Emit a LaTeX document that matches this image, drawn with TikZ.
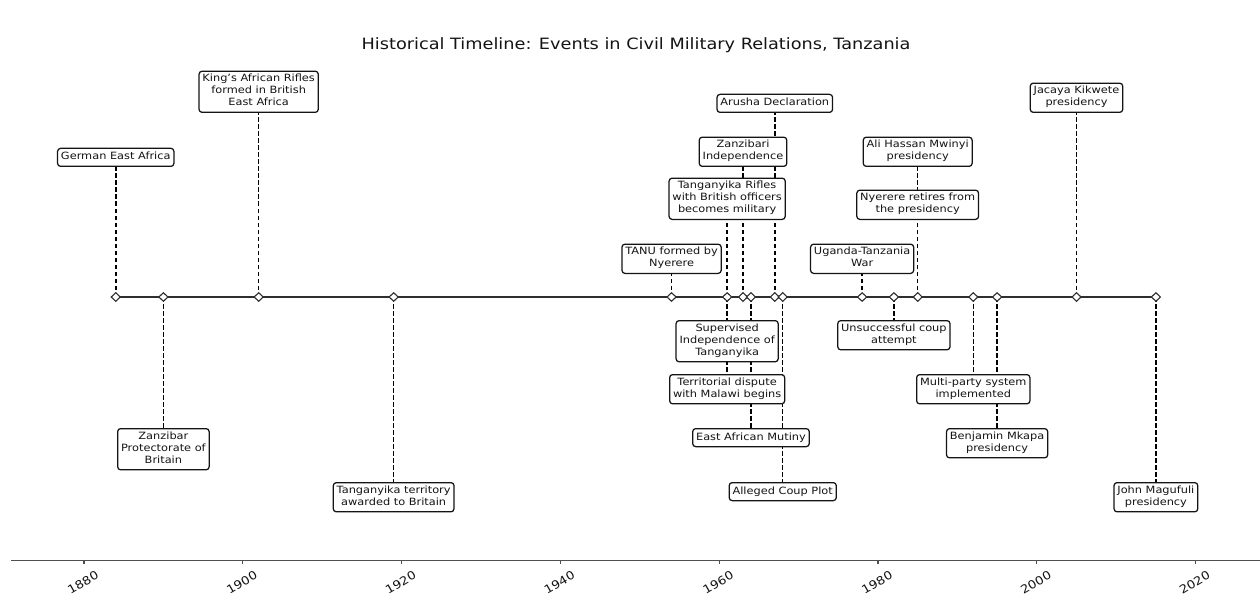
\documentclass[tikz,border=0pt]{standalone}
\usepackage{fontspec}
\setmainfont[FakeStretch=1.135]{DejaVu Sans}
\usetikzlibrary{shapes.geometric}
\pgfdeclarelayer{bg}
\pgfsetlayers{bg,main}
\definecolor{ink}{HTML}{141414}
\definecolor{linec}{HTML}{2E2E2E}
\definecolor{axc}{HTML}{505050}
\begin{document}
\begin{tikzpicture}[x=1pt,y=-1pt,
  declare function={yr(\t)=84+7.94*(\t-1880);},
  evbox/.style={draw=ink,line width=1.25pt,fill=white,rounded corners=3pt,
    align=center,inner xsep=3.4pt,inner ysep=3pt,text=ink,
    font=\fontsize{10}{12}\selectfont,
    execute at begin node=\strut,execute at end node=\strut},
  evu/.style={evbox,anchor=south},
  evd/.style={evbox,anchor=north},
  mk/.style={diamond,draw=linec,fill=white,line width=1.1pt,inner sep=0pt,
    minimum width=9.5pt,minimum height=9pt},
  stem/.style={draw=black,line width=1.5pt,dash pattern=on 4.5pt off 2.5pt},
  tl/.style={draw=linec,line width=2.2pt},
  ax/.style={draw=axc,line width=1.3pt},
  ticklab/.style={rotate=30,text=ink,font=\fontsize{11.5}{13}\selectfont,inner sep=0pt}]
\useasboundingbox (0,0) rectangle (1260,596);
\node[text=ink,font=\fontsize{15.6}{18}\selectfont] (title) at (636,45)
  {Historical Timeline: Events in Civil Military Relations, Tanzania};
% markers
\foreach \y in {1884,1890,1902,1919,1954,1961,1963,1964,1967,1968,1978,1982,1985,1992,1995,2005,2015}
  {\node[mk] (m\y) at ({yr(\y)},297) {};}
% events above
\node[evu] (gea) at ({yr(1884)},167) {German East Africa};
\node[evu] (kar) at ({yr(1902)},113) {King’s African Rifles\\formed in British\\East Africa};
\node[evu] (tanu) at ({yr(1954)},274) {TANU formed by\\Nyerere};
\node[evu] (trif) at ({yr(1961)},220) {Tanganyika Rifles\\with British officers\\becomes military};
\node[evu] (zind) at ({yr(1963)},167) {Zanzibari\\Independence};
\node[evu] (arusha) at ({yr(1967)},113) {Arusha Declaration};
\node[evu] (utw) at ({yr(1978)},274) {Uganda-Tanzania\\War};
\node[evu] (nret) at ({yr(1985)},220) {Nyerere retires from\\the presidency};
\node[evu] (mwinyi) at ({yr(1985)},167) {Ali Hassan Mwinyi\\presidency};
\node[evu] (kikwete) at ({yr(2005)},113) {Jacaya Kikwete\\presidency};
% events below
\node[evd] (zprot) at ({yr(1890)},428) {Zanzibar\\Protectorate of\\Britain};
\node[evd] (tterr) at ({yr(1919)},482) {Tanganyika territory\\awarded to Britain};
\node[evd] (sind) at ({yr(1961)},320) {Supervised\\Independence of\\Tanganyika};
\node[evd] (tdm) at ({yr(1961)},374) {Territorial dispute\\with Malawi begins};
\node[evd] (eam) at ({yr(1964)},428) {East African Mutiny};
\node[evd] (acp) at ({yr(1968)},482) {Alleged Coup Plot};
\node[evd] (ucoup) at ({yr(1982)},320) {Unsuccessful coup\\attempt};
\node[evd] (mps) at ({yr(1992)},374) {Multi-party system\\implemented};
\node[evd] (mkapa) at ({yr(1995)},428) {Benjamin Mkapa\\presidency};
\node[evd] (magufuli) at ({yr(2015)},482) {John Magufuli\\presidency};
\begin{pgfonlayer}{bg}
  \draw[tl] (m1884.center) -- (m2015.center);
  \draw[stem] (m1884.center) -- (gea.south);
  \draw[stem] (m1902.center) -- (kar.south);
  \draw[stem] (m1954.center) -- (tanu.south);
  \draw[stem] (m1961.center) -- (trif.south);
  \draw[stem] (m1963.center) -- (zind.south);
  \draw[stem] (m1967.center) -- (arusha.south);
  \draw[stem] (m1978.center) -- (utw.south);
  \draw[stem] (m1985.center) -- (nret.south);
  \draw[stem] (m1985.center) -- (mwinyi.south);
  \draw[stem] (m2005.center) -- (kikwete.south);
  \draw[stem] (m1890.center) -- (zprot.north);
  \draw[stem] (m1919.center) -- (tterr.north);
  \draw[stem] (m1961.center) -- (sind.north);
  \draw[stem] (m1961.center) -- (tdm.north);
  \draw[stem] (m1964.center) -- (eam.north);
  \draw[stem] (m1968.center) -- (acp.north);
  \draw[stem] (m1982.center) -- (ucoup.north);
  \draw[stem] (m1992.center) -- (mps.north);
  \draw[stem] (m1995.center) -- (mkapa.north);
  \draw[stem] (m2015.center) -- (magufuli.north);
\end{pgfonlayer}
% date axis
\coordinate (axL) at (11,560.7);
\coordinate (axR) at (1260,560.7);
\draw[ax] (axL) -- (axR);
\foreach \y in {1880,1900,...,2020}{
  \coordinate (t\y) at ({yr(\y)},560.7);
  \draw[ax] (t\y) -- ++(0,3.5);
  \node[ticklab] (l\y) at ({yr(\y)-1},582.5) {\y};
}
\end{tikzpicture}
\end{document}
